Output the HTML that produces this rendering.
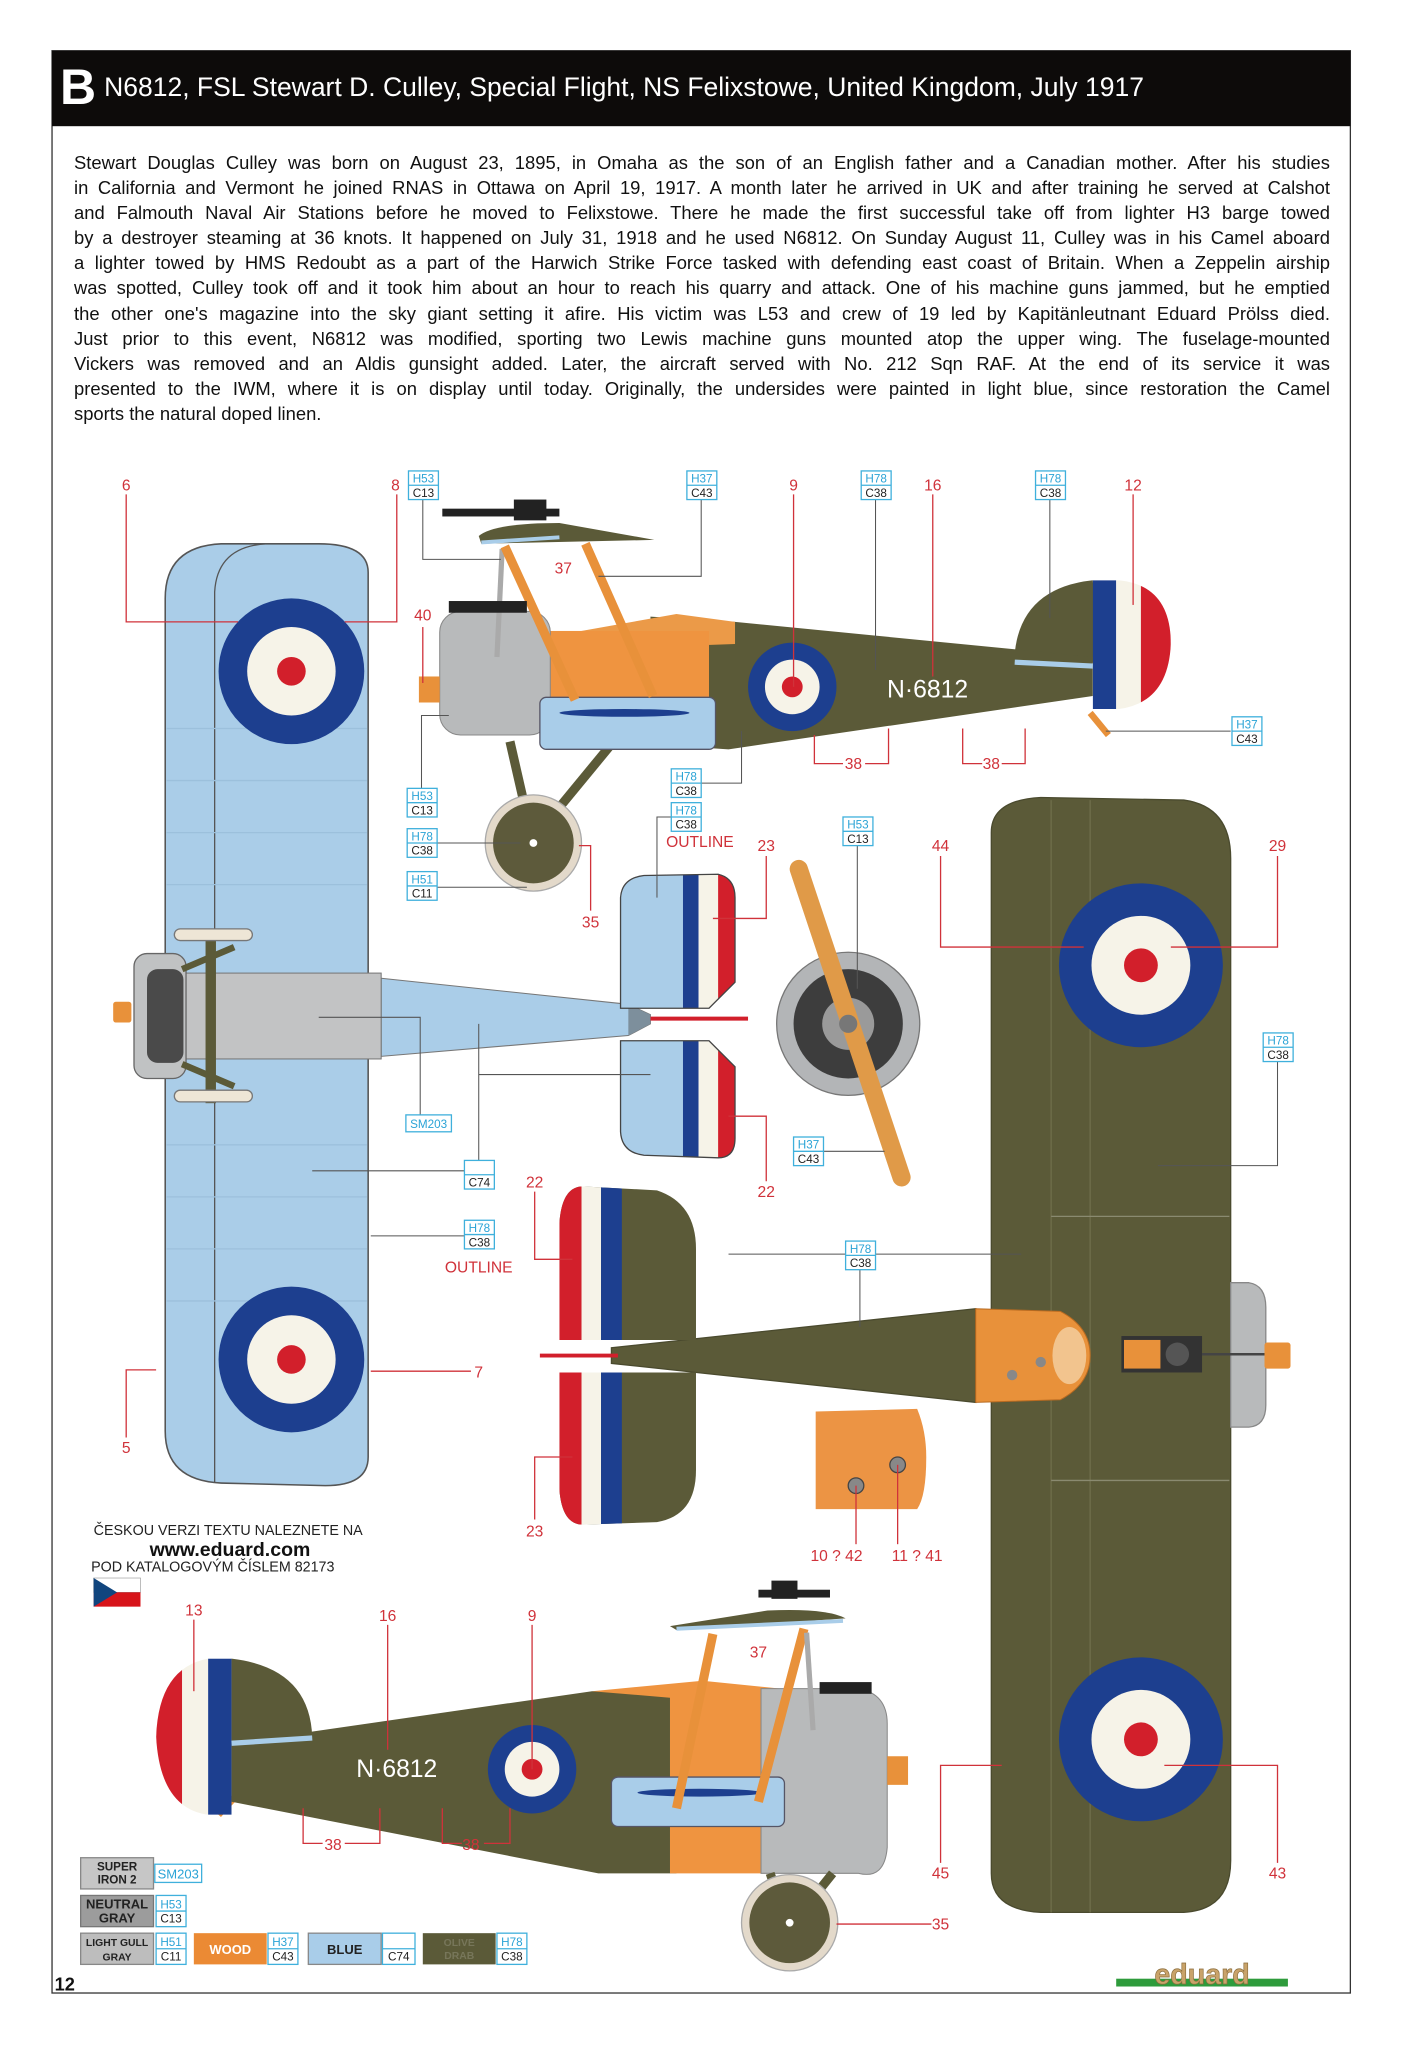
<!DOCTYPE html>
<html><head><meta charset="utf-8">
<style>
html,body{margin:0;padding:0;background:#fff;}
body{width:1405px;height:2047px;position:relative;overflow:hidden;font-family:"Liberation Sans",sans-serif;}
svg{position:absolute;left:0;top:0;}
#para{position:absolute;left:74px;top:150px;width:1256px;font-size:18.4px;line-height:25.1px;color:#111;}
#para div{text-align:justify;text-align-last:justify;white-space:nowrap;}
#para div.l{text-align-last:left;}
#title{position:absolute;left:60px;top:58px;color:#fff;white-space:nowrap;}
#title b{font-size:50px;font-weight:bold;vertical-align:middle;}
#title span{font-size:26.5px;vertical-align:middle;margin-left:8px;}
</style></head><body>
<svg width="1405" height="2047" viewBox="0 0 1080 1573.5" preserveAspectRatio="none" font-family="Liberation Sans, sans-serif">
<defs>
<clipPath id="rud1"><path d="M840,446 L860,446 Q900,450 900,495 Q898,540 860,545 L840,545 Z"/></clipPath>
<clipPath id="rud2"><path d="M178,1275 L160,1275 Q122,1282 120,1335 Q123,1390 160,1395 L178,1395 Z"/></clipPath>
<clipPath id="tpA"><path d="M448,912 L505,915 Q535,925 535,960 L535,1030 L430,1030 L430,940 Q432,912 448,912 Z"/></clipPath>
<clipPath id="tpB"><path d="M430,1055 L535,1055 L535,1130 Q535,1165 505,1170 L448,1172 Q432,1172 430,1145 Z"/></clipPath>
<clipPath id="ubA"><path d="M477,690 Q478,675 495,673 L552,672 Q565,675 565,690 L565,755 L545,775 L477,775 Z"/></clipPath>
<clipPath id="ubB"><path d="M477,800 L545,800 L565,820 L565,875 Q565,890 552,890 L495,888 Q478,886 477,870 Z"/></clipPath>
</defs>
<!-- frame -->
<rect x="40" y="39" width="998" height="1493" fill="none" stroke="#333" stroke-width="1"/>
<rect x="40" y="39" width="998" height="58" fill="#0d0b0a"/>

<!-- ================= UNDERSIDE VIEW (left) ================= -->
<path d="M127,1100 L127,460 Q127,420 170,418 L245,418 Q283,418 283,440 L283,1120 Q283,1142 250,1142 L170,1140 Q127,1138 127,1100 Z" fill="#aacde8" stroke="#555" stroke-width="1.2"/>
<path d="M165,1140 L165,455 Q167,420 205,418" fill="none" stroke="#555" stroke-width="1"/>
<g stroke="#9cc0dc" stroke-width="1">
<line x1="128" y1="560" x2="282" y2="560"/><line x1="128" y1="600" x2="282" y2="600"/><line x1="128" y1="640" x2="282" y2="640"/><line x1="128" y1="680" x2="282" y2="680"/><line x1="128" y1="880" x2="282" y2="880"/><line x1="128" y1="920" x2="282" y2="920"/><line x1="128" y1="960" x2="282" y2="960"/><line x1="128" y1="1000" x2="282" y2="1000"/></g>
<circle cx="224" cy="516" r="56" fill="#1d3f8f"/><circle cx="224" cy="516" r="34" fill="#f6f3e8"/><circle cx="224" cy="516" r="11" fill="#d21f2b"/>
<circle cx="224" cy="1045" r="56" fill="#1d3f8f"/><circle cx="224" cy="1045" r="34" fill="#f6f3e8"/><circle cx="224" cy="1045" r="11" fill="#d21f2b"/>
<!-- fuselage underside -->
<polygon points="293,752 483,772 500,780 500,787 483,796 293,812" fill="#aacde8" stroke="#777" stroke-width="0.8"/>
<rect x="135" y="748" width="158" height="66" fill="#c2c3c4" stroke="#777" stroke-width="0.8"/>
<rect x="103" y="733" width="40" height="96" rx="10" fill="#c0c2c3" stroke="#666"/>
<rect x="113" y="745" width="28" height="72" rx="8" fill="#4a4a4a"/>
<rect x="87" y="770" width="14" height="16" rx="2" fill="#e8913a"/>
<rect x="158" y="715" width="8" height="133" fill="#5b5a38"/>
<line x1="140" y1="745" x2="180" y2="728" stroke="#5b5a38" stroke-width="5"/>
<line x1="140" y1="818" x2="180" y2="835" stroke="#5b5a38" stroke-width="5"/>
<rect x="134" y="714" width="60" height="9" rx="4.5" fill="#eee6d6" stroke="#777"/>
<rect x="134" y="838" width="60" height="9" rx="4.5" fill="#eee6d6" stroke="#777"/>
<polygon points="483,772 500,780 500,787 483,796" fill="#7d8f9c"/>
<line x1="500" y1="783" x2="575" y2="783" stroke="#d21f2b" stroke-width="3"/>
<!-- underside tailplane -->
<g clip-path="url(#ubA)"><rect x="470" y="670" width="60" height="110" fill="#aacde8"/><rect x="525" y="670" width="12" height="110" fill="#1d3f8f"/><rect x="537" y="670" width="15" height="110" fill="#f6f3e8"/><rect x="552" y="670" width="15" height="110" fill="#d21f2b"/></g>
<g clip-path="url(#ubB)"><rect x="470" y="795" width="60" height="100" fill="#aacde8"/><rect x="525" y="795" width="12" height="100" fill="#1d3f8f"/><rect x="537" y="795" width="15" height="100" fill="#f6f3e8"/><rect x="552" y="795" width="15" height="100" fill="#d21f2b"/></g>
<path d="M477,690 Q478,675 495,673 L552,672 Q565,675 565,690 L565,755 L545,775 L477,775 Z M477,800 L545,800 L565,820 L565,875 Q565,890 552,890 L495,888 Q478,886 477,870 Z" fill="none" stroke="#444" stroke-width="1"/>

<!-- propeller -->
<circle cx="652" cy="787" r="55" fill="#b3b5b7" stroke="#777"/>
<circle cx="652" cy="787" r="42" fill="#3d3d3d"/>
<circle cx="652" cy="787" r="20" fill="#9a9a9a"/>
<line x1="614" y1="668" x2="693" y2="905" stroke="#e09a48" stroke-width="14" stroke-linecap="round"/>
<circle cx="652" cy="787" r="7" fill="#777"/>

<!-- ================= TOP SIDE VIEW ================= -->
<line x1="838" y1="548" x2="852" y2="565" stroke="#e8913a" stroke-width="5"/>
<path d="M780,502 Q785,452 840,446 L845,510 Z" fill="#5b5a38"/>
<g clip-path="url(#rud1)"><rect x="838" y="440" width="20" height="110" fill="#1d3f8f"/><rect x="858" y="440" width="19" height="110" fill="#f6f3e8"/><rect x="877" y="440" width="25" height="110" fill="#d21f2b"/></g>
<polygon points="500,474 565,478 840,505 840,535 560,576 500,572" fill="#5b5a38"/>
<line x1="780" y1="509" x2="840" y2="512" stroke="#a9cde9" stroke-width="4"/>
<polygon points="430,488 520,472 565,478 565,495 430,500" fill="#eb9a48"/>
<rect x="420" y="485" width="125" height="88" fill="#ef9440"/>
<rect x="338" y="470" width="85" height="95" rx="16" fill="#b8babb" stroke="#888" stroke-width="0.8"/>
<rect x="322" y="520" width="16" height="20" fill="#e8913a"/>
<circle cx="609" cy="528" r="34" fill="#1d3f8f"/><circle cx="609" cy="528" r="21" fill="#f6f3e8"/><circle cx="609" cy="528" r="8" fill="#d21f2b"/>
<text x="713" y="536" fill="#fff" font-size="19" text-anchor="middle">N·6812</text>
<!-- gear -->
<line x1="392" y1="570" x2="408" y2="640" stroke="#5b5a38" stroke-width="7"/>
<line x1="470" y1="572" x2="414" y2="640" stroke="#5b5a38" stroke-width="7"/>
<circle cx="410" cy="648" r="37" fill="#e3d9ca" stroke="#aaa"/><circle cx="410" cy="648" r="31" fill="#5d5a3b"/><circle cx="410" cy="648" r="3" fill="#fff"/>
<!-- lower wing -->
<rect x="415" y="536" width="135" height="40" rx="5" fill="#a9cde9" stroke="#556"/>
<ellipse cx="480" cy="548" rx="50" ry="3" fill="#1d3f8f"/>
<!-- struts -->
<line x1="386" y1="422" x2="382" y2="505" stroke="#aaa" stroke-width="4"/>
<line x1="388" y1="420" x2="442" y2="538" stroke="#e8913a" stroke-width="7"/>
<line x1="450" y1="418" x2="502" y2="535" stroke="#e8913a" stroke-width="7"/>
<path d="M368,412 Q380,402 430,402 L503,415 L370,418 Z" fill="#5b5a38"/>
<line x1="370" y1="417" x2="430" y2="413" stroke="#a9cde9" stroke-width="3"/>
<rect x="340" y="391" width="90" height="6" fill="#222"/>
<rect x="395" y="384" width="25" height="16" fill="#222"/>
<rect x="345" y="462" width="60" height="9" fill="#222"/>

<!-- ================= TOP VIEW (right) ================= -->
<path d="M762,640 Q762,615 800,613 L910,615 Q946,620 946,660 L946,1430 Q946,1468 910,1470 L800,1470 Q762,1468 762,1440 Z" fill="#5b5a38" stroke="#4a4a2e"/>
<g stroke="#6c6b48" stroke-width="1.2"><line x1="808" y1="615" x2="808" y2="1470"/><line x1="838" y1="615" x2="838" y2="1470"/></g>
<g stroke="#8a8a70" stroke-width="1"><line x1="808" y1="935" x2="945" y2="935"/><line x1="808" y1="1138" x2="945" y2="1138"/></g>
<circle cx="877" cy="742" r="63" fill="#1d3f8f"/><circle cx="877" cy="742" r="38" fill="#f6f3e8"/><circle cx="877" cy="742" r="13" fill="#d21f2b"/>
<circle cx="877" cy="1337" r="63" fill="#1d3f8f"/><circle cx="877" cy="1337" r="38" fill="#f6f3e8"/><circle cx="877" cy="1337" r="13" fill="#d21f2b"/>
<path d="M946,986 L960,986 Q973,988 973,1005 L973,1080 Q973,1096 960,1097 L946,1097 Z" fill="#b8babb" stroke="#888"/>
<rect x="862" y="1027" width="62" height="28" fill="#333"/>
<rect x="864" y="1030" width="28" height="22" fill="#e8913a"/>
<circle cx="905" cy="1041" r="9" fill="#555"/>
<line x1="924" y1="1041" x2="972" y2="1041" stroke="#444" stroke-width="2"/>
<rect x="972" y="1032" width="20" height="20" rx="2" fill="#e8913a"/>
<polygon points="470,1036 750,1006 750,1078 470,1048" fill="#5b5a38" stroke="#4a4a2e"/>
<path d="M750,1006 L815,1008 Q838,1020 838,1042 Q838,1064 815,1076 L750,1078 Z" fill="#e8913a" stroke="#b86a20" stroke-width="0.8"/>
<ellipse cx="822" cy="1042" rx="13" ry="22" fill="#f2c48e"/>
<circle cx="800" cy="1047" r="4" fill="#888"/><circle cx="778" cy="1057" r="4" fill="#888"/>
<g clip-path="url(#tpA)"><rect x="428" y="905" width="110" height="130" fill="#5b5a38"/><rect x="428" y="905" width="19" height="130" fill="#d21f2b"/><rect x="447" y="905" width="15" height="130" fill="#f6f3e8"/><rect x="462" y="905" width="16" height="130" fill="#1d3f8f"/></g>
<g clip-path="url(#tpB)"><rect x="428" y="1050" width="110" height="130" fill="#5b5a38"/><rect x="428" y="1050" width="19" height="130" fill="#d21f2b"/><rect x="447" y="1050" width="15" height="130" fill="#f6f3e8"/><rect x="462" y="1050" width="16" height="130" fill="#1d3f8f"/></g>
<line x1="415" y1="1042" x2="475" y2="1042" stroke="#d21f2b" stroke-width="3"/>
<!-- detail panel -->
<path d="M627,1085 L705,1083 Q712,1100 712,1120 Q712,1150 705,1160 L627,1160 Z" fill="#ec9444"/>
<circle cx="658" cy="1142" r="6" fill="#888" stroke="#444"/><circle cx="690" cy="1126" r="6" fill="#888" stroke="#444"/>

<!-- ================= BOTTOM SIDE VIEW ================= -->
<line x1="168" y1="1395" x2="182" y2="1380" stroke="#e8913a" stroke-width="5"/>
<path d="M240,1335 Q238,1282 178,1275 L178,1340 Z" fill="#5b5a38"/>
<g clip-path="url(#rud2)"><rect x="118" y="1270" width="22" height="130" fill="#d21f2b"/><rect x="140" y="1270" width="20" height="130" fill="#f6f3e8"/><rect x="160" y="1270" width="19" height="130" fill="#1d3f8f"/></g>
<polygon points="178,1340 455,1300 520,1300 520,1440 460,1440 178,1385" fill="#5b5a38"/>
<line x1="178" y1="1340" x2="240" y2="1336" stroke="#a9cde9" stroke-width="4"/>
<polygon points="455,1300 540,1292 600,1298 600,1440 515,1440 515,1305" fill="#ef9440"/>
<path d="M585,1298 L660,1298 Q682,1302 682,1325 L682,1420 Q680,1445 660,1440 L585,1440 Z" fill="#b8babb" stroke="#888" stroke-width="0.8"/>
<rect x="682" y="1350" width="16" height="22" fill="#e8913a"/>
<circle cx="409" cy="1360" r="34" fill="#1d3f8f"/><circle cx="409" cy="1360" r="21" fill="#f6f3e8"/><circle cx="409" cy="1360" r="8" fill="#d21f2b"/>
<text x="305" y="1366" fill="#fff" font-size="19" text-anchor="middle">N·6812</text>
<line x1="592" y1="1440" x2="604" y2="1475" stroke="#5b5a38" stroke-width="7"/>
<line x1="640" y1="1440" x2="612" y2="1475" stroke="#5b5a38" stroke-width="7"/>
<circle cx="607" cy="1478" r="37" fill="#e3d9ca" stroke="#aaa"/><circle cx="607" cy="1478" r="31" fill="#5d5a3b"/><circle cx="607" cy="1478" r="3" fill="#fff"/>
<rect x="470" y="1366" width="133" height="38" rx="5" fill="#a9cde9" stroke="#556"/>
<ellipse cx="538" cy="1378" rx="48" ry="3" fill="#1d3f8f"/>
<line x1="548" y1="1256" x2="520" y2="1390" stroke="#e8913a" stroke-width="7"/>
<line x1="618" y1="1252" x2="583" y2="1385" stroke="#e8913a" stroke-width="7"/>
<line x1="620" y1="1255" x2="625" y2="1330" stroke="#aaa" stroke-width="4"/>
<path d="M515,1250 L590,1238 Q635,1236 650,1244 L520,1253 Z" fill="#5b5a38"/>
<line x1="520" y1="1252" x2="648" y2="1246" stroke="#a9cde9" stroke-width="3"/>
<rect x="583" y="1222" width="55" height="6" fill="#222"/><rect x="593" y="1215" width="20" height="14" fill="#222"/>
<rect x="630" y="1293" width="40" height="9" fill="#222"/>

<!-- ================= RED CALLOUTS ================= -->
<g stroke="#d0323a" stroke-width="1" fill="none">
<polyline points="97,380 97,478 183,478"/>
<polyline points="305,380 305,478 265,478"/>
<line x1="325" y1="482" x2="325" y2="525"/>
<line x1="610" y1="380" x2="610" y2="528"/>
<line x1="717" y1="380" x2="717" y2="520"/>
<line x1="871" y1="380" x2="871" y2="465"/>
<polyline points="626,565 626,587 648,587"/><polyline points="665,587 683,587 683,560"/>
<polyline points="740,560 740,587 755,587"/><polyline points="770,587 788,587 788,560"/>
<polyline points="589,658 589,706 548,706"/>
<polyline points="723,658 723,728 833,728"/>
<polyline points="982,658 982,728 900,728"/>
<polyline points="454,700 454,650 445,650"/>
<polyline points="411,916 411,968 440,968"/>
<polyline points="589,908 589,858 560,858"/>
<line x1="285" y1="1054" x2="362" y2="1054"/>
<polyline points="97,1105 97,1053 120,1053"/>
<polyline points="411,1168 411,1120 440,1120"/>
<line x1="658" y1="1187" x2="658" y2="1142"/><line x1="690" y1="1187" x2="690" y2="1126"/>
<line x1="149" y1="1245" x2="149" y2="1300"/>
<line x1="298" y1="1249" x2="298" y2="1345"/>
<line x1="409" y1="1249" x2="409" y2="1360"/>
<polyline points="233,1390 233,1417 248,1417"/><polyline points="265,1417 292,1417 292,1390"/>
<polyline points="340,1390 340,1417 355,1417"/><polyline points="372,1417 392,1417 392,1390"/>
<polyline points="723,1432 723,1357 770,1357"/>
<polyline points="982,1432 982,1357 895,1357"/>
<line x1="643" y1="1479" x2="716" y2="1479"/>
</g>
<g fill="#d0323a" font-size="12" text-anchor="middle">
<text x="97" y="377">6</text><text x="304" y="377">8</text><text x="325" y="477">40</text><text x="433" y="441">37</text>
<text x="610" y="377">9</text><text x="717" y="377">16</text><text x="871" y="377">12</text>
<text x="656" y="591">38</text><text x="762" y="591">38</text>
<text x="538" y="651">OUTLINE</text><text x="589" y="654">23</text><text x="723" y="654">44</text><text x="982" y="654">29</text>
<text x="454" y="713">35</text><text x="411" y="913">22</text><text x="589" y="920">22</text>
<text x="368" y="978">OUTLINE</text><text x="368" y="1059">7</text><text x="97" y="1117">5</text><text x="411" y="1181">23</text>
<text x="643" y="1200">10 ? 42</text><text x="705" y="1200">11 ? 41</text>
<text x="149" y="1242">13</text><text x="298" y="1246">16</text><text x="409" y="1246">9</text><text x="583" y="1274">37</text>
<text x="256" y="1422">38</text><text x="362" y="1422">38</text>
<text x="723" y="1444">45</text><text x="982" y="1444">43</text><text x="723" y="1483">35</text>
</g>

<!-- ================= GRAY LEADERS ================= -->
<g stroke="#555" stroke-width="0.8" fill="none">
<polyline points="325,384 325,430 385,430"/>
<polyline points="539,384 539,443 460,443"/>
<line x1="673" y1="384" x2="673" y2="515"/>
<line x1="807" y1="384" x2="807" y2="475"/>
<line x1="946" y1="562" x2="850" y2="562"/>
<polyline points="527,602 570,602 570,562"/>
<polyline points="324,606 324,550 345,550"/>
<polyline points="527,628 505,628 505,690"/>
<line x1="335" y1="648" x2="400" y2="648"/>
<polyline points="659,628 659,760"/>
<line x1="335" y1="682" x2="405" y2="682"/>
<polyline points="982,816 982,896 890,896"/>
<polyline points="323,857 323,782 245,782"/>
<polyline points="368,892 368,787"/><line x1="368" y1="826" x2="500" y2="826"/>
<line x1="357" y1="900" x2="240" y2="900"/>
<line x1="632" y1="885" x2="680" y2="885"/>
<line x1="357" y1="950" x2="285" y2="950"/>
<polyline points="661,976 661,1020"/><line x1="560" y1="964" x2="785" y2="964"/>
</g>

<!-- ================= CODE BOXES ================= -->
<g font-size="9" text-anchor="middle">
<g transform="translate(314,362)"><rect width="23" height="22" fill="#fff" stroke="#3fb0dc"/><line x1="0" y1="11" x2="23" y2="11" stroke="#3fb0dc"/><text x="11.5" y="9" fill="#2aa3d6">H53</text><text x="11.5" y="20" fill="#222">C13</text></g>
<g transform="translate(528,362)"><rect width="23" height="22" fill="#fff" stroke="#3fb0dc"/><line x1="0" y1="11" x2="23" y2="11" stroke="#3fb0dc"/><text x="11.5" y="9" fill="#2aa3d6">H37</text><text x="11.5" y="20" fill="#222">C43</text></g>
<g transform="translate(662,362)"><rect width="23" height="22" fill="#fff" stroke="#3fb0dc"/><line x1="0" y1="11" x2="23" y2="11" stroke="#3fb0dc"/><text x="11.5" y="9" fill="#2aa3d6">H78</text><text x="11.5" y="20" fill="#222">C38</text></g>
<g transform="translate(796,362)"><rect width="23" height="22" fill="#fff" stroke="#3fb0dc"/><line x1="0" y1="11" x2="23" y2="11" stroke="#3fb0dc"/><text x="11.5" y="9" fill="#2aa3d6">H78</text><text x="11.5" y="20" fill="#222">C38</text></g>
<g transform="translate(947,551)"><rect width="23" height="22" fill="#fff" stroke="#3fb0dc"/><line x1="0" y1="11" x2="23" y2="11" stroke="#3fb0dc"/><text x="11.5" y="9" fill="#2aa3d6">H37</text><text x="11.5" y="20" fill="#222">C43</text></g>
<g transform="translate(516,591)"><rect width="23" height="22" fill="#fff" stroke="#3fb0dc"/><line x1="0" y1="11" x2="23" y2="11" stroke="#3fb0dc"/><text x="11.5" y="9" fill="#2aa3d6">H78</text><text x="11.5" y="20" fill="#222">C38</text></g>
<g transform="translate(313,606)"><rect width="23" height="22" fill="#fff" stroke="#3fb0dc"/><line x1="0" y1="11" x2="23" y2="11" stroke="#3fb0dc"/><text x="11.5" y="9" fill="#2aa3d6">H53</text><text x="11.5" y="20" fill="#222">C13</text></g>
<g transform="translate(516,617)"><rect width="23" height="22" fill="#fff" stroke="#3fb0dc"/><line x1="0" y1="11" x2="23" y2="11" stroke="#3fb0dc"/><text x="11.5" y="9" fill="#2aa3d6">H78</text><text x="11.5" y="20" fill="#222">C38</text></g>
<g transform="translate(313,637)"><rect width="23" height="22" fill="#fff" stroke="#3fb0dc"/><line x1="0" y1="11" x2="23" y2="11" stroke="#3fb0dc"/><text x="11.5" y="9" fill="#2aa3d6">H78</text><text x="11.5" y="20" fill="#222">C38</text></g>
<g transform="translate(648,628)"><rect width="23" height="22" fill="#fff" stroke="#3fb0dc"/><line x1="0" y1="11" x2="23" y2="11" stroke="#3fb0dc"/><text x="11.5" y="9" fill="#2aa3d6">H53</text><text x="11.5" y="20" fill="#222">C13</text></g>
<g transform="translate(313,670)"><rect width="23" height="22" fill="#fff" stroke="#3fb0dc"/><line x1="0" y1="11" x2="23" y2="11" stroke="#3fb0dc"/><text x="11.5" y="9" fill="#2aa3d6">H51</text><text x="11.5" y="20" fill="#222">C11</text></g>
<g transform="translate(971,794)"><rect width="23" height="22" fill="#fff" stroke="#3fb0dc"/><line x1="0" y1="11" x2="23" y2="11" stroke="#3fb0dc"/><text x="11.5" y="9" fill="#2aa3d6">H78</text><text x="11.5" y="20" fill="#222">C38</text></g>
<g transform="translate(312,857)"><rect width="35" height="13" fill="#fff" stroke="#3fb0dc"/><text x="17.5" y="10" fill="#2aa3d6">SM203</text></g>
<g transform="translate(357,892)"><rect width="23" height="22" fill="#fff" stroke="#3fb0dc"/><line x1="0" y1="11" x2="23" y2="11" stroke="#3fb0dc"/><text x="11.5" y="20" fill="#222">C74</text></g>
<g transform="translate(610,874)"><rect width="23" height="22" fill="#fff" stroke="#3fb0dc"/><line x1="0" y1="11" x2="23" y2="11" stroke="#3fb0dc"/><text x="11.5" y="9" fill="#2aa3d6">H37</text><text x="11.5" y="20" fill="#222">C43</text></g>
<g transform="translate(357,938)"><rect width="23" height="22" fill="#fff" stroke="#3fb0dc"/><line x1="0" y1="11" x2="23" y2="11" stroke="#3fb0dc"/><text x="11.5" y="9" fill="#2aa3d6">H78</text><text x="11.5" y="20" fill="#222">C38</text></g>
<g transform="translate(650,954)"><rect width="23" height="22" fill="#fff" stroke="#3fb0dc"/><line x1="0" y1="11" x2="23" y2="11" stroke="#3fb0dc"/><text x="11.5" y="9" fill="#2aa3d6">H78</text><text x="11.5" y="20" fill="#222">C38</text></g>
</g>

<!-- ================= CZECH NOTE ================= -->
<text x="72" y="1180" font-size="11" fill="#222">ČESKOU VERZI TEXTU NALEZNETE NA</text>
<text x="115" y="1196" font-size="15" font-weight="bold" fill="#111">www.eduard.com</text>
<text x="70" y="1208" font-size="11" fill="#222">POD KATALOGOVÝM ČÍSLEM 82173</text>
<rect x="72" y="1213" width="36" height="11" fill="#fff" stroke="#999" stroke-width="0.5"/>
<rect x="72" y="1224" width="36" height="11" fill="#d7141a"/>
<polygon points="72,1213 90,1224 72,1235" fill="#11457e"/>

<!-- ================= LEGEND ================= -->
<g font-size="9" text-anchor="middle" font-weight="bold">
<rect x="62" y="1428" width="56" height="24" fill="#c6c6c6" stroke="#888"/><text x="90" y="1438" fill="#222">SUPER</text><text x="90" y="1448" fill="#222">IRON 2</text>
<rect x="119" y="1433" width="36" height="14" fill="#fff" stroke="#3fb0dc"/><text x="137" y="1444" fill="#2aa3d6" font-weight="normal" font-size="10">SM203</text>
<rect x="62" y="1457" width="56" height="24" fill="#9c9c9c" stroke="#777"/><text x="90" y="1467" fill="#222" font-size="10">NEUTRAL</text><text x="90" y="1478" fill="#222" font-size="10">GRAY</text>
<g font-weight="normal"><rect x="120" y="1457" width="23" height="24" fill="#fff" stroke="#3fb0dc"/><line x1="120" y1="1469" x2="143" y2="1469" stroke="#3fb0dc"/><text x="131.5" y="1467" fill="#2aa3d6">H53</text><text x="131.5" y="1478" fill="#222">C13</text></g>
<rect x="62" y="1486" width="56" height="24" fill="#bdbdbd" stroke="#888"/><text x="90" y="1496" fill="#222" font-size="8">LIGHT GULL</text><text x="90" y="1507" fill="#222" font-size="8">GRAY</text>
<g font-weight="normal"><rect x="120" y="1486" width="23" height="24" fill="#fff" stroke="#3fb0dc"/><line x1="120" y1="1498" x2="143" y2="1498" stroke="#3fb0dc"/><text x="131.5" y="1496" fill="#2aa3d6">H51</text><text x="131.5" y="1507" fill="#222">C11</text></g>
<rect x="149" y="1486" width="56" height="24" fill="#eb8a34"/><text x="177" y="1502" fill="#fff" font-size="10">WOOD</text>
<g font-weight="normal"><rect x="206" y="1486" width="23" height="24" fill="#fff" stroke="#3fb0dc"/><line x1="206" y1="1498" x2="229" y2="1498" stroke="#3fb0dc"/><text x="217.5" y="1496" fill="#2aa3d6">H37</text><text x="217.5" y="1507" fill="#222">C43</text></g>
<rect x="237" y="1486" width="56" height="24" fill="#a9cde9" stroke="#888"/><text x="265" y="1502" fill="#222" font-size="10">BLUE</text>
<g font-weight="normal"><rect x="294" y="1486" width="25" height="24" fill="#fff" stroke="#3fb0dc"/><line x1="294" y1="1498" x2="319" y2="1498" stroke="#3fb0dc"/><text x="306.5" y="1507" fill="#222">C74</text></g>
<rect x="325" y="1486" width="56" height="24" fill="#5b5a38"/><text x="353" y="1496" fill="#77765a" font-size="8">OLIVE</text><text x="353" y="1506" fill="#77765a" font-size="8">DRAB</text>
<g font-weight="normal"><rect x="382" y="1486" width="23" height="24" fill="#fff" stroke="#3fb0dc"/><line x1="382" y1="1498" x2="405" y2="1498" stroke="#3fb0dc"/><text x="393.5" y="1496" fill="#2aa3d6">H78</text><text x="393.5" y="1507" fill="#222">C38</text></g>
</g>
<text x="42" y="1530" font-size="14" font-weight="bold" fill="#111">12</text>
<rect x="858" y="1521" width="132" height="6" fill="#2e9b3c"/>
<text x="924" y="1525" font-size="22" font-weight="bold" fill="#c9a36a" stroke="#8a6d3b" stroke-width="0.5" text-anchor="middle">eduard</text>
</svg>

<div id="title"><b>B</b><span>N6812, FSL Stewart D. Culley, Special Flight, NS Felixstowe, United Kingdom, July 1917</span></div>

<div id="para">
<div>Stewart Douglas Culley was born on August 23, 1895, in Omaha as the son of an English father and a Canadian mother. After his studies</div>
<div>in California and Vermont he joined RNAS in Ottawa on April 19, 1917. A month later he arrived in UK and after training he served at Calshot</div>
<div>and Falmouth Naval Air Stations before he moved to Felixstowe. There he made the first successful take off from lighter H3 barge towed</div>
<div>by a destroyer steaming at 36 knots. It happened on July 31, 1918 and he used N6812. On Sunday August 11, Culley was in his Camel aboard</div>
<div>a lighter towed by HMS Redoubt as a part of the Harwich Strike Force tasked with defending east coast of Britain. When a Zeppelin airship</div>
<div>was spotted, Culley took off and it took him about an hour to reach his quarry and attack. One of his machine guns jammed, but he emptied</div>
<div>the other one's magazine into the sky giant setting it afire. His victim was L53 and crew of 19 led by Kapitänleutnant Eduard Prölss died.</div>
<div>Just prior to this event, N6812 was modified, sporting two Lewis machine guns mounted atop the upper wing. The fuselage-mounted</div>
<div>Vickers was removed and an Aldis gunsight added. Later, the aircraft served with No. 212 Sqn RAF. At the end of its service it was</div>
<div>presented to the IWM, where it is on display until today. Originally, the undersides were painted in light blue, since restoration the Camel</div>
<div class="l">sports the natural doped linen.</div>
</div>
</body></html>
